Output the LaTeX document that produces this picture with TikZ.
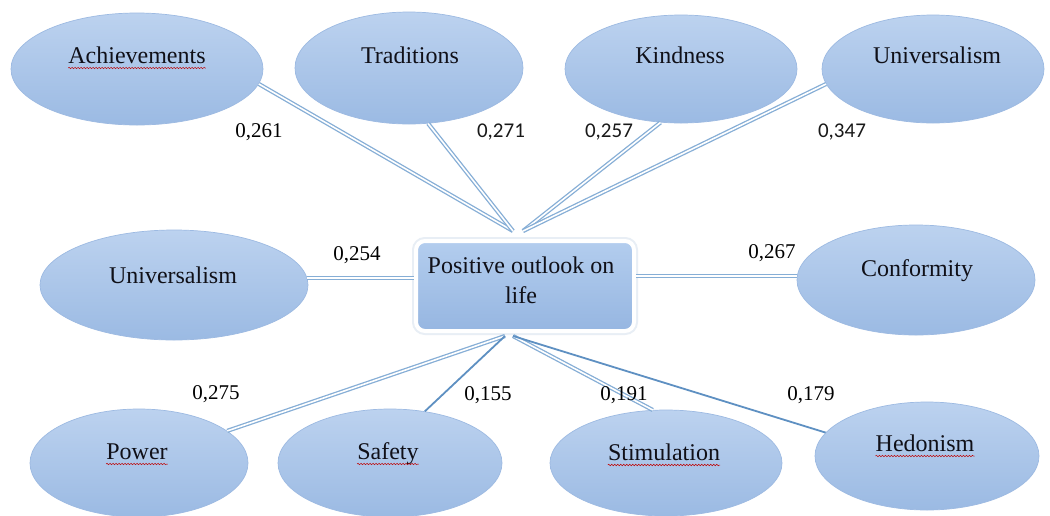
\documentclass[tikz,border=0pt]{standalone}
\usepackage{fontspec}
\setmainfont{Liberation Serif}
\newfontfamily\calib{Carlito}
\usetikzlibrary{shapes.geometric,decorations.pathmorphing}
\definecolor{ellT}{HTML}{BCD2EF}
\definecolor{ellM}{HTML}{AAC6E9}
\definecolor{ellB}{HTML}{9BBAE3}
\definecolor{ellE}{HTML}{9DBAE2}
\definecolor{boxT}{HTML}{B3CDEE}
\definecolor{boxB}{HTML}{96B6E1}
\definecolor{glowc}{HTML}{E8EEF5}
\definecolor{lineB}{HTML}{86AED6}
\definecolor{lineS}{HTML}{5E90C2}
\definecolor{txt}{HTML}{101018}
\begin{document}
\begin{tikzpicture}[x=1pt,y=-1pt,
  ell/.style={ellipse, inner sep=0pt, top color=ellT, middle color=ellM, bottom color=ellB, draw=ellE, line width=0.7pt},
  centerbox/.style={rectangle, rounded corners=9pt, top color=boxT, bottom color=boxB, draw=white, line width=4pt,
     preaction={draw=glowc, line width=8pt}, minimum width=218pt, minimum height=90pt, inner sep=0pt},
  lbl/.style={inner sep=0pt, anchor=base, font=\fontsize{24}{30}\selectfont, text=txt},
  num/.style={inner sep=0pt, anchor=base, font=\fontsize{21}{24}\selectfont, text=black},
  numc/.style={inner sep=0pt, anchor=base, font=\calib\fontsize{21}{24}\selectfont, text=black!90},
  dbl/.style={draw=lineB, line width=1.3pt, double=white, double distance=1.6pt},
  sgl/.style={draw=lineS, line width=1.8pt},
  spell/.style={draw=red!75!black, line width=0.5pt, decorate, decoration={snake, segment length=3pt, amplitude=0.7pt}}
]
\useasboundingbox (0,0) rectangle (1050,515);
\clip (0,0) rectangle (1050,515);
\fill[white] (0,0) rectangle (1050,515);

% ellipses
\node[ell, minimum width=252pt, minimum height=112pt] (ach) at (137,69) {};
\node[ell, minimum width=228pt, minimum height=112pt] (tra) at (409,68) {};
\node[ell, minimum width=232pt, minimum height=108pt] (kin) at (681,69) {};
\node[ell, minimum width=222pt, minimum height=108pt] (unt) at (933,69) {};
\node[ell, minimum width=268pt, minimum height=110pt] (unl) at (174,285) {};
\node[ell, minimum width=238pt, minimum height=110pt] (con) at (916,280) {};
\node[ell, minimum width=218pt, minimum height=108pt] (pow) at (139,463) {};
\node[ell, minimum width=224pt, minimum height=108pt] (saf) at (390,463) {};
\node[ell, minimum width=232pt, minimum height=106pt] (sti) at (666,463) {};
\node[ell, minimum width=224pt, minimum height=108pt] (hed) at (927,456) {};

% central box
\node[centerbox] (box) at (525,286) {};
\node[lbl, anchor=center, align=center] (boxtext) at (521,280) {Positive outlook on\\life};

% ellipse labels
\node[lbl] (achT) at (137,63) {Achievements};
\node[lbl] (traT) at (410,63) {Traditions};
\node[lbl] (kinT) at (680,63) {Kindness};
\node[lbl] (untT) at (937,63) {Universalism};
\node[lbl] (unlT) at (173,283) {Universalism};
\node[lbl] (conT) at (917,276) {Conformity};
\node[lbl] (powT) at (137,459) {Power};
\node[lbl] (safT) at (388,459) {Safety};
\node[lbl] (stiT) at (664,460) {Stimulation};
\node[lbl] (hedT) at (925,451) {Hedonism};

% spell-check underlines
\foreach \n in {achT,powT,safT,stiT,hedT}{
  \draw[spell] ([yshift=-5pt]\n.base west) -- ([yshift=-5pt]\n.base east);
}

% hubs
\coordinate (hubTL) at (513,231);
\coordinate (hubTR) at (523,231);
\coordinate (hubBL) at (505,336);
\coordinate (hubBR) at (513,336);

% connectors
\draw[dbl] (ach.-7) -- (hubTL);
\draw[dbl] (tra.-71.6) -- (hubTL);
\draw[dbl] (kin.-111) -- (hubTR);
\draw[dbl] (unt.-172) -- (hubTR);
\draw[dbl] (unl.3.5) -- (unl.3.5 -| box.west);
\draw[dbl] (con.178) -- (con.178 -| box.east);
\draw[dbl] (pow.20) -- (hubBL);
\draw[sgl] (saf.56.5) -- (hubBL);
\draw[dbl] (hubBR) -- (sti.104.8);
\draw[sgl] (hubBR) -- (hed.167);

% coefficients
\node[num]  (n1) at (259,137) {0,261};
\node[numc] (n2) at (501,137) {0,271};
\node[numc] (n3) at (609,137) {0,257};
\node[numc] (n4) at (842,137) {0,347};
\node[num]  (n5) at (357,260) {0,254};
\node[num]  (n6) at (772,258) {0,267};
\node[num]  (n7) at (216,399) {0,275};
\node[num]  (n8) at (488,400) {0,155};
\node[num]  (n9) at (624,400) {0,191};
\node[num]  (n10) at (811,400) {0,179};
\end{tikzpicture}
\end{document}
